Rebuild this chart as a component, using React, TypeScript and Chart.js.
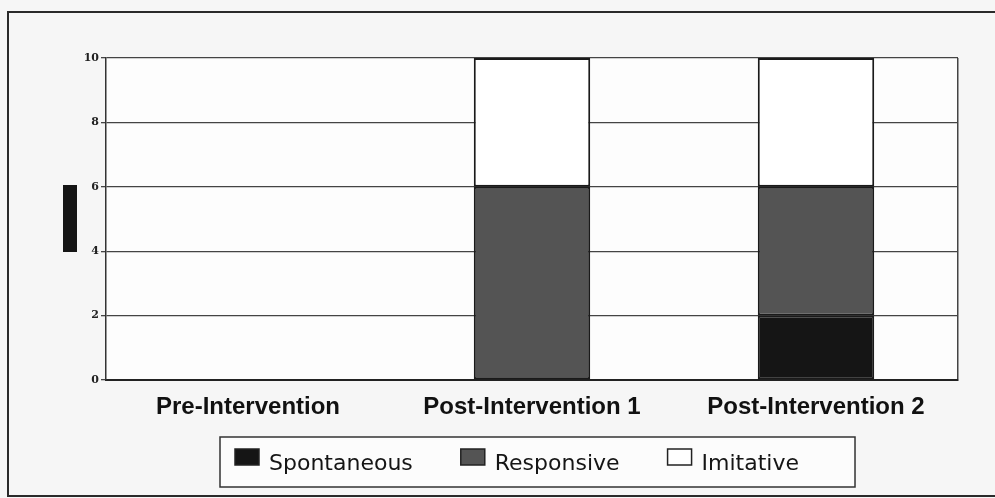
import React, { useEffect, useRef } from "react";
import { Chart, registerables } from "chart.js";

Chart.register(...registerables);

const categories = ["Pre-Intervention", "Post-Intervention 1", "Post-Intervention 2"];
const seriesNames = ["Spontaneous", "Responsive", "Imitative"];
const spontaneous = [0, 0, 2];
const responsive = [0, 6, 4];
const imitative = [0, 4, 4];
const yTicks = [0, 2, 4, 6, 8, 10];
const seriesColors = ["#151515", "#545454", "#ffffff"];

const plotBg = {
  id: "plotBg",
  beforeDraw(chart: any) {
    const { ctx, chartArea } = chart;
    ctx.save();
    ctx.fillStyle = "#fdfdfd";
    ctx.fillRect(chartArea.left, chartArea.top, chartArea.right - chartArea.left, chartArea.bottom - chartArea.top);
    ctx.restore();
  },
};

const boxLegend = {
  id: "boxLegend",
  afterDraw(chart: any) {
    const { ctx, chartArea } = chart;
    ctx.save();
    ctx.font = '22px "DejaVu Sans"';
    const startX = chartArea.left + 129;
    const baseY = chartArea.bottom + 90;
    const swW = 24;
    const swH = 16;
    const gapText = 10;
    const gapItem = 48;
    const items = chart.data.datasets.map((ds: any) => ({
      label: ds.label,
      color: ds.backgroundColor,
      w: ctx.measureText(ds.label).width,
    }));
    let total = 0;
    items.forEach((it: any, i: number) => {
      total += swW + gapText + it.w + (i < items.length - 1 ? gapItem : 0);
    });
    const boxLeft = startX - 15;
    const boxRight = startX + total + 56;
    const boxTop = chartArea.bottom + 57;
    const boxH = 50;
    ctx.fillStyle = "#fcfcfc";
    ctx.fillRect(boxLeft, boxTop, boxRight - boxLeft, boxH);
    ctx.strokeStyle = "#333333";
    ctx.lineWidth = 1.5;
    ctx.strokeRect(boxLeft, boxTop, boxRight - boxLeft, boxH);
    let x = startX;
    items.forEach((it: any) => {
      const sy = chartArea.bottom + 69;
      ctx.fillStyle = it.color;
      ctx.fillRect(x, sy, swW, swH);
      ctx.strokeStyle = "#222222";
      ctx.lineWidth = 1.5;
      ctx.strokeRect(x, sy, swW, swH);
      ctx.fillStyle = "#151515";
      ctx.textBaseline = "alphabetic";
      ctx.textAlign = "left";
      ctx.fillText(it.label, x + swW + gapText, baseY);
      x += swW + gapText + it.w + gapItem;
    });
    ctx.restore();
  },
};

export default function App() {
  const ref = useRef<HTMLCanvasElement | null>(null);

  useEffect(() => {
    if (!ref.current) return;
    const seriesData = [spontaneous, responsive, imitative];
    const chart = new Chart(ref.current, {
      type: "bar",
      data: {
        labels: categories,
        datasets: seriesNames.map((name, i) => ({
          label: name,
          data: seriesData[i],
          backgroundColor: seriesColors[i],
          borderColor: "#1a1a1a",
          borderWidth: 2,
          borderSkipped: false,
          categoryPercentage: 1,
          barPercentage: 0.41,
        })),
      },
      options: {
        responsive: false,
        animation: false,
        devicePixelRatio: 1,
        layout: { padding: { left: 60, right: 37, top: 58, bottom: 78 } },
        plugins: {
          legend: { display: false },
          tooltip: { enabled: false },
          title: { display: false },
        },
        scales: {
          x: {
            stacked: true,
            afterFit: (scale: any) => {
              scale.height = 40;
            },
            grid: {
              display: true,
              drawTicks: false,
              lineWidth: 1.5,
              color: (c: any) =>
                c.index === undefined || c.index >= categories.length ? "#444444" : "rgba(0,0,0,0)",
            },
            border: { display: true, color: "#222222", width: 2 },
            ticks: {
              color: "#111111",
              padding: 13,
              maxRotation: 0,
              autoSkip: false,
              font: { family: '"Liberation Sans", Arial, sans-serif', weight: "bold", size: 24 },
            },
          },
          y: {
            stacked: true,
            min: 0,
            max: 10,
            afterFit: (scale: any) => {
              scale.width = 46;
            },
            afterBuildTicks: (scale: any) => {
              scale.ticks = yTicks.map((v) => ({ value: v }));
            },
            grid: { color: "#444444", lineWidth: 1.3, tickLength: 5, drawTicks: true },
            border: { display: true, color: "#333333", width: 1.5 },
            ticks: {
              color: "#222222",
              padding: 2,
              font: { family: '"DejaVu Serif", serif', weight: "bold", size: 11 },
            },
          },
        },
      },
      plugins: [plotBg, boxLegend],
    });
    return () => chart.destroy();
  }, []);

  return (
    <div style={{ position: "fixed", left: 0, top: 0, width: 995, height: 498, background: "#f6f6f6", overflow: "hidden" }}>
      <canvas ref={ref} width={995} height={498} style={{ display: "block", position: "absolute", left: 0, top: 0 }} />
      <div
        style={{
          position: "absolute",
          left: 7,
          top: 11,
          width: 1000,
          height: 486,
          boxSizing: "border-box",
          border: "2px solid #2a2a2a",
          pointerEvents: "none",
        }}
      />
      <div style={{ position: "absolute", left: 63, top: 185, width: 14, height: 67, background: "#151515" }} />
    </div>
  );
}
